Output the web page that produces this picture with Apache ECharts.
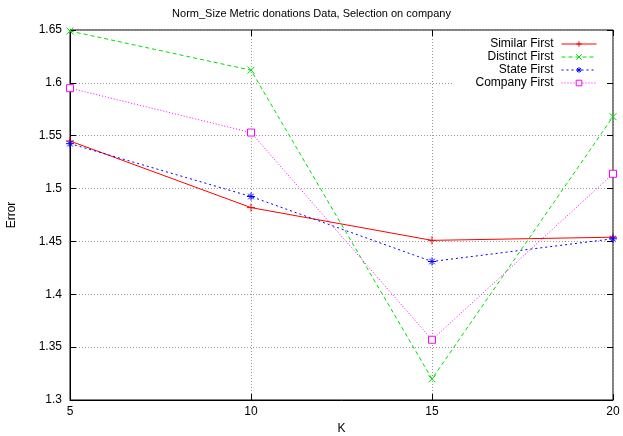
<!DOCTYPE html>
<html>
<head>
<meta charset="utf-8">
<script src="https://cdn.jsdelivr.net/npm/echarts@6/dist/echarts.min.js"></script>
<style>
  html, body { margin: 0; padding: 0; background: #fff; }
  #chart { width: 623px; height: 436px; }
</style>
</head>
<body>
<div id="chart"></div>
<script>
// K values on the x axis
var kValues = [5, 10, 15, 20];

// Error per ordering strategy
var similarFirst = [1.545, 1.482, 1.451, 1.454];
var distinctFirst = [1.649, 1.612, 1.320, 1.568];
var stateFirst = [1.5425, 1.4925, 1.431, 1.4525];
var companyFirst = [1.595, 1.553, 1.357, 1.514];

var seriesNames = ['Similar First', 'Distinct First', 'State First', 'Company First'];

var plusPath = 'path://M0,5L10,5M5,0L5,10';
var crossPath = 'path://M1,1L9,9M1,9L9,1';
var starPath = 'path://M0,5L10,5M5,0L5,10M1.5,1.5L8.5,8.5M1.5,8.5L8.5,1.5';
var squarePath = 'path://M0,0L10,0L10,10L0,10Z';

function pairs(ys) {
  return kValues.map(function (k, i) { return [k, ys[i]]; });
}

function makeSeries(name, ys, color, dash, symbol, size, fill) {
  return {
    name: name,
    type: 'line',
    data: pairs(ys),
    symbol: symbol,
    symbolSize: size,
    showSymbol: true,
    lineStyle: { color: color, width: 1, type: dash },
    itemStyle: { color: fill || color, borderColor: color, borderWidth: 1 },
    emphasis: { disabled: true },
    animation: false
  };
}

var chart = echarts.init(document.getElementById('chart'));
var font = 'Liberation Sans, Arial, sans-serif';

chart.setOption({
  backgroundColor: '#fff',
  animation: false,
  title: {
    text: 'Norm_Size Metric donations Data, Selection on company',
    left: 'center',
    top: 3,
    textStyle: { fontSize: 11, fontWeight: 'normal', color: '#000', fontFamily: font }
  },
  legend: {
    orient: 'vertical',
    right: 18,
    top: 35,
    align: 'right',
    itemWidth: 35,
    itemHeight: 7,
    itemGap: 1,
    padding: [3, 8, 3, 23],
    backgroundColor: '#fff',
    lineStyle: { width: 1 },
    itemStyle: { borderWidth: 1 },
    textStyle: { fontSize: 12, lineHeight: 12, color: '#000', fontFamily: font, padding: [0, 3, 0, 0] },
    data: seriesNames
  },
  grid: {
    left: 70, right: 10, top: 30, bottom: 36,
    outerBoundsMode: 'none',
    containLabel: false,
    show: true, borderColor: '#000', borderWidth: 1
  },
  xAxis: [{
    type: 'value',
    min: 5, max: 20, interval: 5,
    name: 'K',
    nameLocation: 'middle',
    nameGap: 23,
    nameTextStyle: { fontSize: 12, color: '#000', fontFamily: font },
    axisLine: { show: true, lineStyle: { color: '#000' } },
    axisTick: { show: true, inside: true, length: 6, lineStyle: { color: '#000' } },
    axisLabel: { fontSize: 12, color: '#000', margin: 6, fontFamily: font },
    splitLine: { show: true, lineStyle: { color: '#999', type: [1, 2] } }
  }, {
    type: 'value', position: 'top',
    min: 5, max: 20, interval: 5,
    axisLine: { show: false },
    axisTick: { show: true, inside: true, length: 6, lineStyle: { color: '#000' } },
    axisLabel: { show: false },
    splitLine: { show: false }
  }],
  yAxis: [{
    type: 'value',
    min: 1.3, max: 1.65, interval: 0.05,
    name: 'Error',
    nameLocation: 'middle',
    nameGap: 52,
    nameTextStyle: { fontSize: 12, color: '#000', fontFamily: font },
    axisLine: { show: true, lineStyle: { color: '#000' } },
    axisTick: { show: true, inside: true, length: 6, lineStyle: { color: '#000' } },
    axisLabel: {
      fontSize: 12, color: '#000', margin: 8, fontFamily: font,
      formatter: function (v) { return String(Math.round(v * 100) / 100); }
    },
    splitLine: { show: true, lineStyle: { color: '#999', type: [1, 2] } }
  }, {
    type: 'value', position: 'right',
    min: 1.3, max: 1.65, interval: 0.05,
    axisLine: { show: false },
    axisTick: { show: true, inside: true, length: 6, lineStyle: { color: '#000' } },
    axisLabel: { show: false },
    splitLine: { show: false }
  }],
  series: [
    makeSeries('Similar First', similarFirst, '#ff0000', 'solid', plusPath, 8),
    makeSeries('Distinct First', distinctFirst, '#00e000', [4, 3], crossPath, 7),
    makeSeries('State First', stateFirst, '#0000ff', [2, 3], starPath, 8),
    makeSeries('Company First', companyFirst, '#ff00ff', [1, 2], squarePath, 7, '#fff')
  ]
});
</script>
</body>
</html>
